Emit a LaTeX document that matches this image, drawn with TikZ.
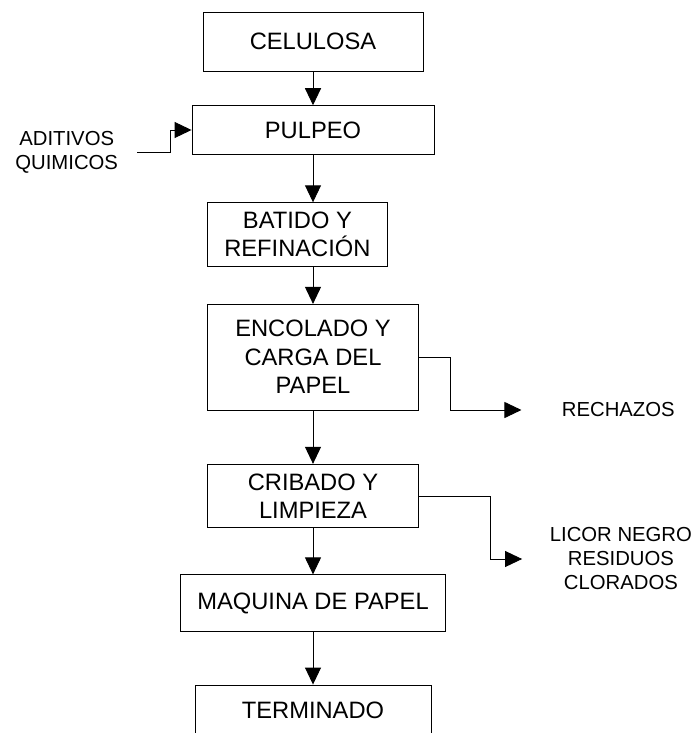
\documentclass[tikz,border=0pt]{standalone}
\usepackage{fontspec}
\setmainfont{Liberation Sans}
\usetikzlibrary{arrows.meta}

\begin{document}
\begin{tikzpicture}[x=1pt,y=-1pt,node distance=107pt,>={Triangle[length=17pt,width=16pt]},line width=0.9pt,
        box/.style={draw, rectangle, align=center, font=\fontsize{23.7}{28.5}\selectfont},
        side/.style={align=center, inner sep=0pt, font=\fontsize{20.3}{24}\selectfont}]
        \useasboundingbox (0,0) rectangle (697,733);
        \clip (0,0) rectangle (697,733);

        \node (celulosa) [box, minimum width=220pt, minimum height=59pt] at (313,41.5) {CELULOSA};
        \node (pulpeo) [box, minimum width=242pt, minimum height=48.6pt, below of=celulosa, yshift=18.5pt] {PULPEO};
        \node (batido) [box, minimum width=179.3pt, minimum height=63.3pt, below of=pulpeo, xshift=-15.6pt, yshift=2.6pt] {BATIDO Y\\REFINACIÓN};
        \node (encolado) [box, minimum width=210.6pt, minimum height=105.7pt, below of=batido, xshift=15.6pt, yshift=-15.8pt] {ENCOLADO Y\\CARGA DEL\\PAPEL};
        \node (cribado) [box, minimum width=211.4pt, minimum height=63.4pt, below of=encolado, yshift=-31.8pt] {CRIBADO Y\\LIMPIEZA};
        \node (maquina) [box, minimum width=265.3pt, minimum height=56.3pt, below of=cribado] {MAQUINA DE PAPEL};
        \node (terminado) [box, minimum width=236pt, minimum height=50pt, below of=maquina] {TERMINADO};

        \node (aditivos) [side] at (66.7,152.5) {ADITIVOS\\QUIMICOS};
        \node (rechazos) [side] at (618.3,410) {RECHAZOS};
        \node (licor) [side] at (620.9,559) {LICOR NEGRO\\RESIDUOS\\CLORADOS};

        \draw[->] (celulosa) -- (pulpeo);
        \draw[->] (pulpeo) -- (pulpeo.south |- batido.north);
        \draw[->] (encolado.north |- batido.south) -- (encolado);
        \draw[->] (encolado) -- (cribado);
        \draw[->] (cribado) -- (maquina);
        \draw[->] (maquina) -- (terminado);

        \draw[->] ([xshift=18.7pt]aditivos.east) -- ++(33,0) |- (pulpeo.west);
        \draw[->] (encolado.east) -- ++(31.7,0) |- ([xshift=-40pt]rechazos.west);
        \draw[->] (cribado.east) -- ++(71.3,0) |- ([xshift=-27.3pt]licor.west);
    \end{tikzpicture}
\end{document}
